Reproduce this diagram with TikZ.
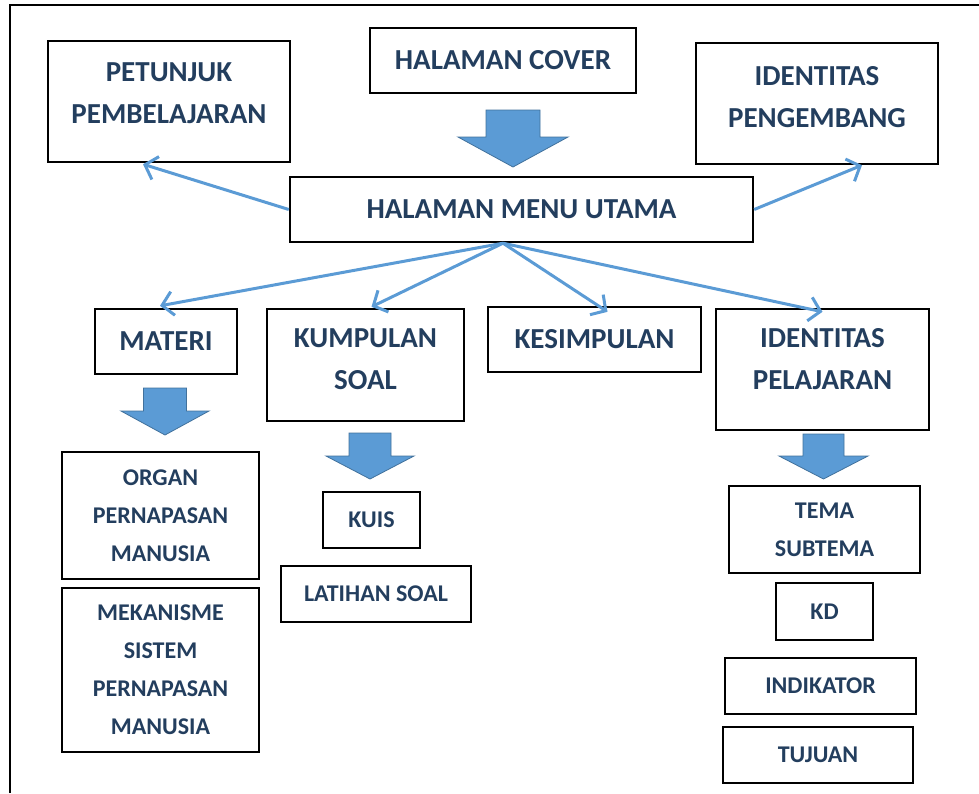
\documentclass[tikz,border=0pt]{standalone}
\usepackage{fontspec}
\setmainfont{Carlito}
\usetikzlibrary{calc,arrows.meta}
\definecolor{linkblue}{HTML}{5B9BD5}
\definecolor{arrowedge}{HTML}{41719C}
\definecolor{labelink}{HTML}{233E5E}
\tikzset{
  box/.style={draw=black, line width=2.4pt, inner sep=0pt, align=center,
    font=\bfseries, text=labelink},
  bigtext/.style={font=\fontsize{29}{42}\selectfont\bfseries},
  smalltext/.style={font=\fontsize{24}{38}\selectfont\bfseries},
  lifted/.style={text depth=#1},
  link/.style={draw=linkblue, line width=3pt,
    -{Straight Barb[length=11pt,width=24pt,line width=3pt]}},
  blockfill/.style={fill=linkblue, draw=arrowedge, line width=0.8pt},
  pics/downarrow/.style n args={4}{code={
    % #1 shaft half-width, #2 head half-width, #3 shaft height, #4 head height
    \path[blockfill] (-#1,0) -- (#1,0) -- (#1,#3) -- (#2,#3) -- (0,#3+#4)
      -- (-#2,#3) -- (-#1,#3) -- cycle;
  }}
}
\begin{document}
\begin{tikzpicture}[x=1pt,y=-1pt]
\useasboundingbox (0,0) rectangle (979,793);

% outer frame
\draw[line width=2.2pt] (10,793) -- (10,5) -- (979,5);

% top row
\node[box,bigtext,lifted=16pt,minimum width=242,minimum height=121] (petunjuk) at (169,101.5) {PETUNJUK\\PEMBELAJARAN};
\node[box,bigtext,minimum width=266,minimum height=65] (cover) at (503,60.5) {HALAMAN COVER};
\node[box,bigtext,lifted=14pt,minimum width=242,minimum height=121] (pengembang) at (817,103.5) {IDENTITAS\\PENGEMBANG};
\node[box,bigtext,minimum width=463,minimum height=65] (menu) at (521.5,209.5) {HALAMAN MENU UTAMA};

% second row
\node[box,bigtext,minimum width=142,minimum height=65] (materi) at (166,341.5) {MATERI};
\node[box,bigtext,lifted=12pt,minimum width=197,minimum height=112] (kumpulan) at (365.5,365) {KUMPULAN\\SOAL};
\node[box,bigtext,minimum width=213,minimum height=65] (kesimpulan) at (594.5,339.5) {KESIMPULAN};
\node[box,bigtext,lifted=22pt,minimum width=213,minimum height=121] (idpel) at (822.5,369.5) {IDENTITAS\\PELAJARAN};

% materi branch
\node[box,smalltext,minimum width=197,minimum height=127] (organ) at (160.5,515.5) {ORGAN\\PERNAPASAN\\MANUSIA};
\node[box,smalltext,minimum width=197,minimum height=164] (mekanisme) at (160.5,670) {MEKANISME\\SISTEM\\PERNAPASAN\\MANUSIA};

% soal branch
\node[box,smalltext,minimum width=97,minimum height=56] (kuis) at (371.5,520) {KUIS};
\node[box,smalltext,minimum width=190,minimum height=56] (latihan) at (376,594) {LATIHAN SOAL};

% pelajaran branch
\node[box,smalltext,minimum width=191,minimum height=87] (tema) at (824.5,529.5) {TEMA\\SUBTEMA};
\node[box,smalltext,minimum width=97,minimum height=57] (kd) at (824.5,611.5) {KD};
\node[box,smalltext,minimum width=191,minimum height=56] (indikator) at (820.5,686) {INDIKATOR};
\node[box,smalltext,minimum width=190,minimum height=56] (tujuan) at (818,755) {TUJUAN};

% block arrows
\pic at (513,110) {downarrow={27}{55}{27}{30}};
\pic at (165,388) {downarrow={21.5}{44}{23}{24}};
\pic at (370,433) {downarrow={21}{44}{23}{23}};
\pic at (823.5,434) {downarrow={20.5}{44.5}{22}{23}};

% connectors from the main menu
\coordinate (hub) at ($(menu.south)+(-18.5,0)$);
\draw[link] (menu.west) -- ($(petunjuk.south)+(-26,1)$);
\draw[link] (menu.east) -- ($(pengembang.south)+(45,0)$);
\draw[link] (hub) -- ($(materi.north)+(-6,-2)$);
\draw[link] (hub) -- ($(kumpulan.north)+(6,-1)$);
\draw[link] (hub) -- ($(kesimpulan.north)+(13,6)$);
\draw[link] (hub) -- ($(idpel.north)+(0,4)$);
\end{tikzpicture}
\end{document}
